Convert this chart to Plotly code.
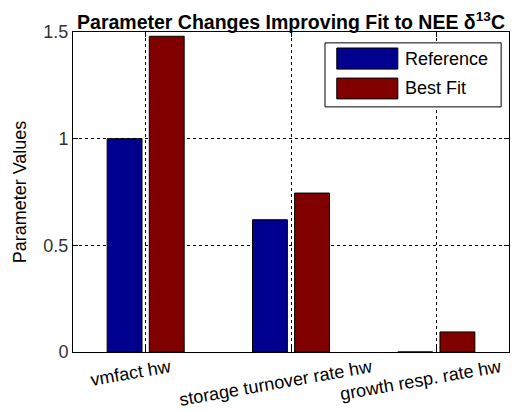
import plotly.graph_objects as go

categories = ["vmfact hw", "storage turnover rate hw", "growth resp. rate hw"]
series_names = ["Reference", "Best Fit"]
reference_values = [1.0, 0.62, 0.0]
bestfit_values = [1.48, 0.745, 0.094]
y_ticks = [0, 0.5, 1, 1.5]
y_tick_labels = ["0", "0.5", "1", "1.5"]

colors = ["#00008F", "#800000"]
FONT = "Liberation Sans, Arial, sans-serif"
xpos = list(range(1, len(categories) + 1))

fig = go.Figure()
for vals, name, col, off in zip([reference_values, bestfit_values], series_names, colors, [-0.265, 0.025]):
    fig.add_trace(go.Bar(
        x=xpos, y=vals, name=name, width=0.24, offset=off,
        marker=dict(color=col, line=dict(color="black", width=1)),
        showlegend=False,
    ))

fig.update_layout(
    width=516, height=404,
    margin=dict(l=65, r=15, t=24, b=60, autoexpand=False),
    paper_bgcolor="white", plot_bgcolor="white",
    font=dict(family=FONT, size=18, color="black"),
    title=dict(text="<b>Parameter Changes Improving Fit to NEE δ<sup>13</sup>C</b>",
               x=0.5, xref="paper", xanchor="center",
               y=1, yref="paper", yanchor="bottom", pad=dict(b=3),
               font=dict(family=FONT, size=19.5, color="black")),
    barmode="overlay",
)
fig.update_xaxes(
    range=[0.5, 3.5], tickvals=xpos, showticklabels=False, automargin=False,
    showline=True, linecolor="black", linewidth=1, mirror="ticks",
    ticks="inside", ticklen=5, tickcolor="black",
    showgrid=True, gridcolor="black", griddash="dot", gridwidth=1,
    zeroline=False,
)
fig.update_yaxes(
    range=[0, 1.5], tickvals=y_ticks, ticktext=y_tick_labels, automargin=False,
    showline=True, linecolor="black", linewidth=1, mirror="ticks",
    ticks="inside", ticklen=5, tickcolor="black",
    showgrid=True, gridcolor="black", griddash="dot", gridwidth=1,
    zeroline=False,
    title=dict(text="Parameter Values", font=dict(size=18), standoff=12),
    tickfont=dict(size=18, color="#333333"),
)

# rotated category labels
for xp, lab in zip(xpos, categories):
    fig.add_annotation(x=xp, xref="x", y=-0.005, yref="paper", text=lab,
                       textangle=-10, showarrow=False, xanchor="center", yanchor="top",
                       xshift=-15, font=dict(size=18, color="black"))

# legend box drawn like the MATLAB legend
fig.add_shape(type="rect", xref="paper", yref="paper", x0=0.578, x1=0.982, y0=0.766, y1=0.966,
              line=dict(color="black", width=1), fillcolor="white", layer="above")
sw_y = [(0.884, 0.95), (0.791, 0.856)]
for (y0, y1), name, col in zip(sw_y, series_names, colors):
    fig.add_shape(type="rect", xref="paper", yref="paper", x0=0.605, x1=0.745, y0=y0, y1=y1,
                  line=dict(color="black", width=1), fillcolor=col, layer="above")
    fig.add_annotation(x=0.757, xref="paper", y=(y0 + y1) / 2, yref="paper", text=name,
                       showarrow=False, xanchor="left", yanchor="middle",
                       font=dict(size=18, color="black"))

fig.write_html("out.html")
